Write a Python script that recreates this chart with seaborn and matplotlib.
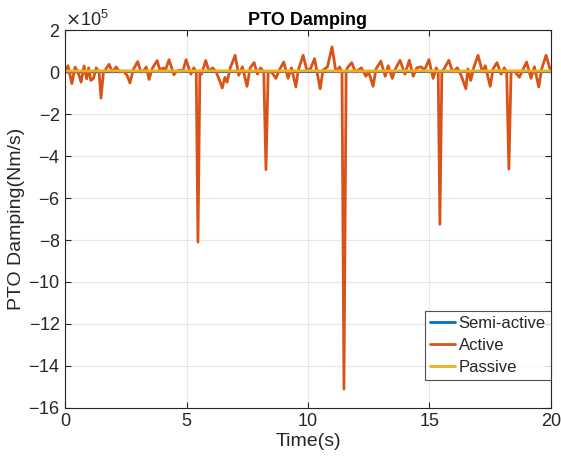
import numpy as np
import pandas as pd
import matplotlib
matplotlib.use("Agg")
import matplotlib.pyplot as plt
import seaborn as sns
from matplotlib.ticker import ScalarFormatter

# Active damping (x1e5 Nm/s)
active_t = [0.0, 0.12, 0.28, 0.41, 0.53, 0.66, 0.78, 0.89, 0.97, 1.06, 1.17, 1.28, 1.40, 1.48, 1.58,
            1.69, 1.81, 1.95, 2.10, 2.25, 2.40, 2.55, 2.67, 2.80, 2.99, 3.12, 3.22, 3.34, 3.46, 3.58,
            3.79, 3.90, 4.05, 4.12, 4.28, 4.48, 4.60, 4.75, 4.85, 4.98, 5.18, 5.30, 5.40, 5.47, 5.55,
            5.62, 5.79, 5.92, 6.08, 6.22, 6.36, 6.47, 6.58, 6.67, 6.80, 7.00, 7.15, 7.30, 7.49, 7.62,
            7.78, 7.92, 8.05, 8.18, 8.27, 8.36, 8.50, 8.68, 8.82, 9.00, 9.18, 9.32, 9.50, 9.60, 9.80,
            9.95, 10.10, 10.27, 10.50, 10.62, 10.80, 10.99, 11.15, 11.30, 11.40, 11.48, 11.57, 11.62,
            11.80, 11.95, 12.20, 12.38, 12.50, 12.68, 12.80, 13.00, 13.18, 13.30, 13.47, 13.60, 13.79,
            13.99, 14.17, 14.33, 14.48, 14.65, 14.80, 14.98, 15.15, 15.28, 15.36, 15.43, 15.51, 15.60,
            15.80, 15.95, 16.15, 16.32, 16.50, 16.58, 16.70, 16.82, 17.00, 17.18, 17.30, 17.50, 17.62,
            17.78, 17.95, 18.08, 18.18, 18.27, 18.36, 18.50, 18.70, 18.82, 19.00, 19.18, 19.32, 19.50,
            19.62, 19.80, 20.0]
active_v = [0.0, 0.3, -0.55, 0.24, 0.0, -0.48, 0.29, -0.32, 0.2, -0.4, -0.3, 0.2, 0.0, -1.24, 0.0,
            0.16, 0.37, 0.0, 0.24, 0.0, 0.05, -0.15, -0.52, 0.1, 0.5, 0.0, 0.05, 0.24, -0.35, 0.15,
            0.55, 0.1, 0.2, 0.05, 0.59, -0.13, 0.05, 0.1, 0.05, 0.59, -0.1, 0.2, 0.0, -8.1, 0.0,
            -0.1, 0.55, 0.05, 0.2, 0.0, -0.4, -0.76, -0.25, -0.48, 0.2, 0.8, -0.15, 0.25, -0.68, 0.2,
            0.45, -0.1, 0.2, 0.0, -4.65, 0.0, 0.0, -0.3, 0.1, 0.48, -0.3, 0.2, -0.71, 0.1, 0.8,
            0.1, 0.15, 0.64, -0.8, 0.1, 0.24, 1.2, 0.0, 0.24, 0.0, -15.1, 0.0, 0.2,
            0.45, 0.0, 0.2, -0.2, 0.0, -0.68, 0.15, 0.52, -0.2, 0.3, -0.3, 0.15, 0.56,
            -0.1, 0.56, -0.2, 0.2, 0.25, 0.1, 0.59, -0.3, 0.2, 0.0, -7.25, 0.0, 0.15,
            0.56, 0.0, 0.2, -0.2, -0.8, 0.15, -0.4, 0.2, 0.8, 0.0, 0.3, -0.68, 0.15,
            0.45, -0.1, 0.2, 0.0, -4.62, 0.0, 0.05, -0.25, 0.05, 0.48, -0.3, 0.25, -0.71,
            0.15, 0.8, 0.0]

# Semi-active and passive stay close to zero
small_t = [0, 2, 4, 6, 8, 10, 12, 14, 16, 18, 20]
semi_v = [0.0, 0.02, 0.03, 0.02, 0.03, 0.02, 0.03, 0.02, 0.03, 0.02, 0.02]
passive_v = [0.05, 0.06, 0.05, 0.06, 0.05, 0.06, 0.05, 0.06, 0.05, 0.06, 0.05]

scale = 1e5
df = pd.concat([
    pd.DataFrame({"t": small_t, "v": np.array(semi_v) * scale, "s": "Semi-active"}),
    pd.DataFrame({"t": active_t, "v": np.array(active_v) * scale, "s": "Active"}),
    pd.DataFrame({"t": small_t, "v": np.array(passive_v) * scale, "s": "Passive"}),
])

sns.set_theme(style="ticks")
plt.rcParams["font.family"] = ["Liberation Sans", "DejaVu Sans"]

fig = plt.figure(figsize=(5.61, 4.70), dpi=100)
ax = fig.add_axes([0.116, 0.132, 0.866, 0.804])

colors = {"Semi-active": "#0072BD", "Active": "#D95319", "Passive": "#EDB120"}
sns.lineplot(data=df, x="t", y="v", hue="s", palette=colors, linewidth=2,
             estimator=None, sort=False, ax=ax)

ax.set_xlim(0, 20)
ax.set_ylim(-16e5, 2e5)
ax.set_xticks([0, 5, 10, 15, 20])
ax.set_yticks(np.arange(-16, 3, 2) * scale)
fmt = ScalarFormatter(useMathText=True)
fmt.set_powerlimits((5, 5))
ax.yaxis.set_major_formatter(fmt)
ax.yaxis.get_offset_text().set_fontsize(13)

ax.grid(True, color="#e6e6e6", linewidth=0.8)
ax.set_axisbelow(True)
ax.tick_params(direction="in", top=True, right=True, labelsize=13, length=4, width=0.8,
               colors="#262626")
for sp in ax.spines.values():
    sp.set_color("#262626")
    sp.set_linewidth(0.8)

ax.set_xlabel("Time(s)", fontsize=14, color="#262626", labelpad=2)
ax.set_ylabel("PTO Damping(Nm/s)", fontsize=14, color="#262626", labelpad=2)
ax.set_title("PTO Damping", fontsize=13, fontweight="bold", color="#000000", pad=4)

leg = ax.legend(loc="lower right", bbox_to_anchor=(1.0, 0.075), fontsize=12, frameon=True,
                fancybox=False, edgecolor="#262626", handlelength=1.55, handletextpad=0.2,
                borderaxespad=0.0, borderpad=0.3, labelspacing=0.42)
leg.get_frame().set_linewidth(0.8)

fig.savefig("out.png", dpi=100)
